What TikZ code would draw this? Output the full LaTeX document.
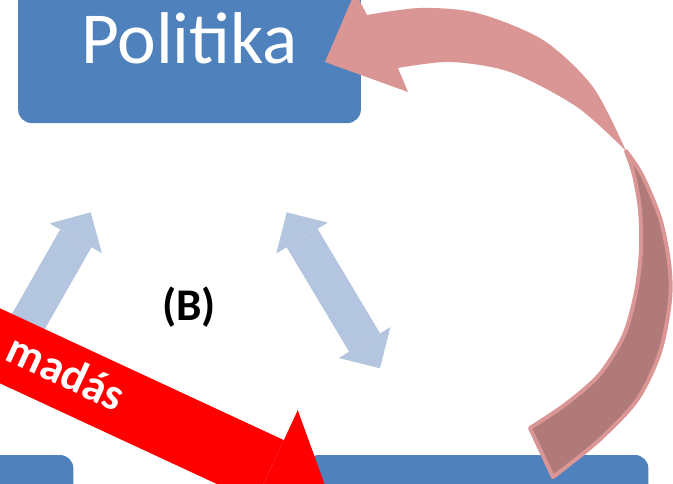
\documentclass[tikz,border=0pt]{standalone}
\usepackage{fontspec}
\setmainfont{Carlito}
\usepackage{tikz}
\usetikzlibrary{arrows.meta}

\definecolor{boxblue}{HTML}{4F81BD}
\definecolor{lightarrow}{HTML}{B4C5DF}
\definecolor{curvepink}{HTML}{D99694}
\definecolor{curvedark}{HTML}{B07A78}

\tikzset{
	doboz/.style={rectangle,rounded corners=10pt,fill=boxblue,text=white,minimum width=257pt,minimum height=127.5pt,inner sep=0pt},
	kekhegy/.tip={Triangle[length=22.5pt,width=45pt,line width'=0pt]},
	kek/.style={draw=lightarrow,line width=27pt},
	pirosnyil/.style={draw=red,line width=51pt,-{Triangle[length=50pt,width=100.5pt,line width'=0pt]}}
}

\begin{document}
\begin{tikzpicture}[x=0.75pt,y=-0.75pt]
			
			\useasboundingbox (0,0) rectangle (673,483);
			\clip (0,0) rectangle (673,483);
			
			\node[doboz,font=\fontsize{55}{60}\selectfont] (Pol) at (189.5,38) {Politika};
			\node[doboz] (BoxL) at (-98,540) {};
			\node[doboz] (BoxR) at (477,540) {};
			
			\coordinate (L1) at (-5,380);
			\coordinate (L2) at (90.7,212.3);
			\draw[kek,-kekhegy] (L1) -- (L2);
			
			\coordinate (R1) at (286.7,212.3);
			\coordinate (R2) at (380,368.3);
			\draw[kek,kekhegy-kekhegy] (R1) -- (R2);
			
			\node[font=\bfseries\fontsize{34}{38}\selectfont] (B) at (189,307.5) {(B)};
			
			\coordinate (V1) at (-100,299.4);
			\coordinate (V2) at (330,499);
			\draw[pirosnyil] (V1) -- (V2);
			\node[font=\bfseries\fontsize{34}{40}\selectfont,text=white,rotate=-24.9,anchor=base] (T) at (60,386) {madás};
			
			\coordinate (Cveg) at (541,453);
			\coordinate (Ccsavar) at (626,151);
			\coordinate (Chegy) at (325,62);
			
			\filldraw[fill=curvedark,draw=curvepink,line width=3pt,line join=round]
				plot[smooth] coordinates {(Ccsavar) (634,175) (640,210) (641,250) (636,292) (624,335) (600,374) (566,404) (530,428)}
				-- plot[smooth] coordinates {(553,477) (598,441) (637,400) (660,352) (670,300) (669,262) (660,218) (642,175) (Ccsavar)}
				-- cycle;
			
			\fill[curvepink]
				plot[smooth] coordinates {(Ccsavar) (593,87) (543,40) (477,13) (420,8) (367,15)}
				-- (355,-8) -- (Chegy) -- (408,92)
				-- plot[smooth] coordinates {(398,68) (450,62) (510,72) (577,107) (Ccsavar)}
				-- cycle;
			
		\end{tikzpicture}
\end{document}
